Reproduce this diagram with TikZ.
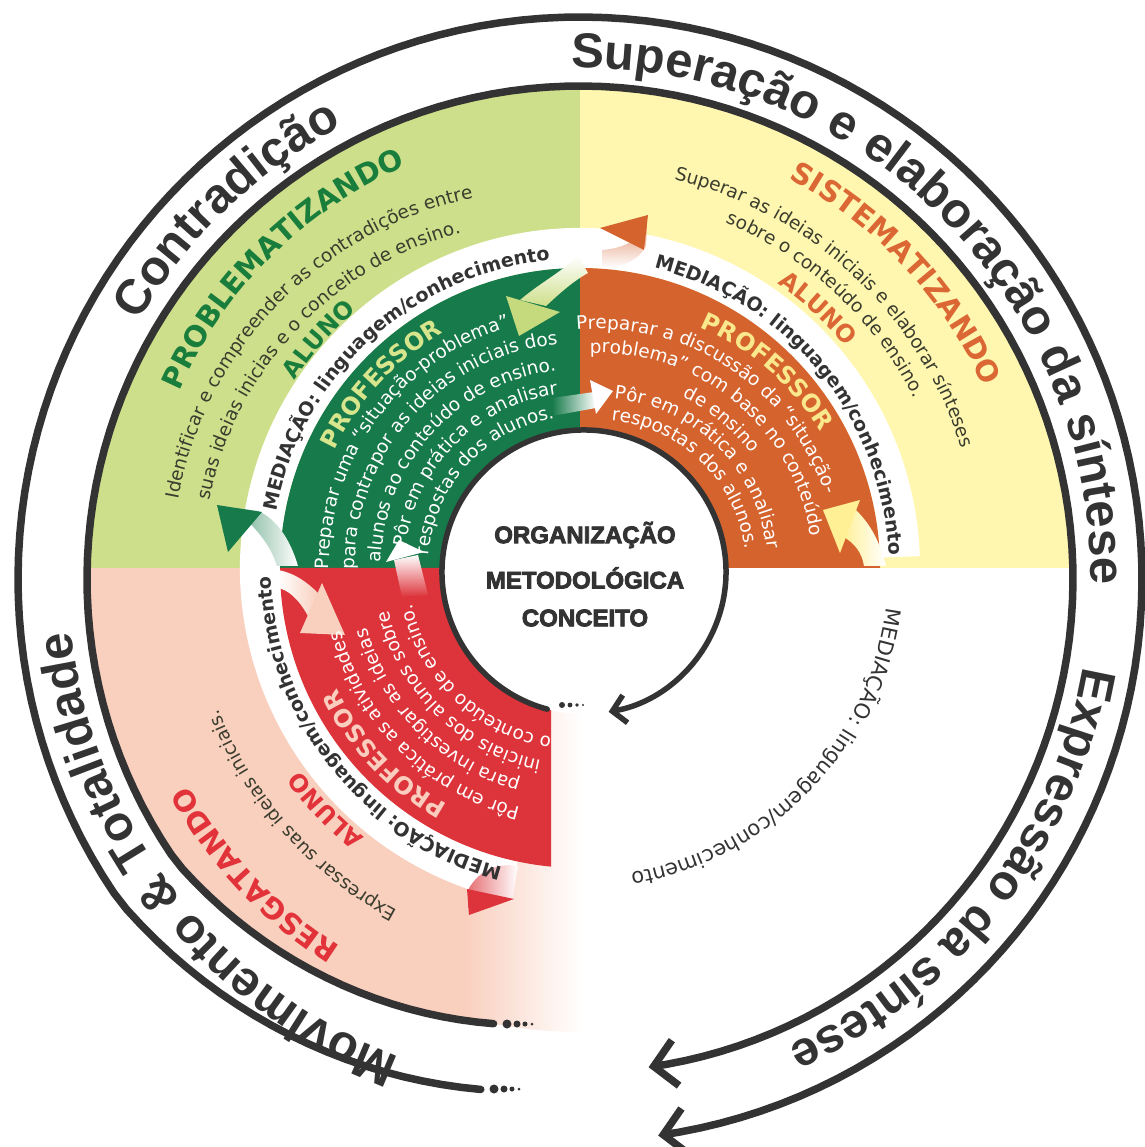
\documentclass[tikz,border=0pt]{standalone}
\usepackage{fontspec}
\setmainfont{DejaVu Sans}
\newfontfamily\outerfont{Liberation Sans}
\newfontfamily\heavyfont[FakeBold=3.5]{Liberation Sans}
\usetikzlibrary{arrows.meta,decorations.text}

\definecolor{ink}{RGB}{51,51,51}
\definecolor{bggreen}{RGB}{206,223,139}
\definecolor{bgyellow}{RGB}{255,247,176}
\definecolor{bgpink}{RGB}{249,207,190}
\definecolor{ringgreen}{RGB}{22,122,74}
\definecolor{ringorange}{RGB}{213,99,46}
\definecolor{ringred}{RGB}{220,52,58}
\definecolor{probgreen}{RGB}{25,125,60}
\definecolor{sisorange}{RGB}{219,104,52}
\definecolor{resred}{RGB}{226,50,58}
\definecolor{palegreen}{RGB}{215,229,140}
\definecolor{paleyellow}{RGB}{250,232,140}
\definecolor{palepink}{RGB}{250,205,190}
\definecolor{bgtext}{RGB}{58,60,45}
\definecolor{headgreen}{RGB}{196,218,125}
\definecolor{headyellow}{RGB}{255,240,150}

\newcommand{\fOuter}{\outerfont\bfseries\fontsize{49}{49}\selectfont}
\newcommand{\fMed}{\bfseries\fontsize{19}{19}\selectfont}
\newcommand{\fMedLight}{\fontsize{21}{21}\selectfont}
\newcommand{\fPhase}{\bfseries\fontsize{29}{29}\selectfont}
\newcommand{\fRole}{\bfseries\fontsize{24}{24}\selectfont}
\newcommand{\fBody}{\fontsize{18.5}{18.5}\selectfont}

% #1 centre shift, #2 middle angle, #3 baseline radius, #4 font, #5 colour, #6 text
\newcommand{\arctext}[6][0,0]{%
  \path[shift={(#1)},decorate,decoration={text along path,text align=center,
      text color=#5,text={|#4|#6}}]
    ({#2+80}:#3) arc[start angle={#2+80},end angle={#2-80},radius=#3];}

\pgfmathdeclarefunction{rout}{1}{\pgfmathparse{562-42*min(1,max(0,(#1-215)/44))}}
\pgfmathdeclarefunction{rsec}{1}{\pgfmathparse{493-40*min(1,max(0,(#1-215)/44))}}

\tikzset{
  spiral/.style={draw=ink,line width=7.5pt,line cap=round,
    -{Straight Barb[length=22pt,width=46pt]}},
  innerline/.style={draw=ink,line width=5.5pt,line cap=round,
    -{Straight Barb[length=13pt,width=28pt]}},
  centertxt/.style={font=\heavyfont\bfseries\fontsize{24}{24}\selectfont,
    text=ink,inner sep=0pt},
}

\begin{document}
\begin{tikzpicture}[x=1pt,y=1pt]
  \useasboundingbox (-580,-579) rectangle (564,568);
  % backgrounds
  \begin{scope}
    \clip (0,-11) circle[radius=493];
    \fill[bggreen] (-600,0) rectangle (0,600);
    \fill[bgyellow] (0,0) rectangle (600,600);
  \end{scope}
  \begin{scope}
    \clip (0,0) -- plot[domain=176:276,samples=60] ({rsec(\x)*cos(\x)},{rsec(\x)*sin(\x)-11}) -- cycle;
    \fill[bgpink] (-600,0) rectangle (-115,-600);
    \shade[left color=bgpink,right color=white] (-116,0) rectangle (2,-600);
  \end{scope}
  % mediation band
  \fill[white] (2:300) arc[start angle=2,end angle=258,radius=300]
    -- (258:340) arc[start angle=258,end angle=2,radius=340] -- cycle;
  % rings
  \fill[ringgreen] (90:130) arc[start angle=90,end angle=180,radius=130]
    -- (180:300) arc[start angle=180,end angle=90,radius=300] -- cycle;
  \fill[ringorange] (0:130) arc[start angle=0,end angle=90,radius=130]
    -- (90:300) arc[start angle=90,end angle=0,radius=300] -- cycle;
  \begin{scope}
    \clip (-600,0) rectangle (-29,-600);
    \fill[ringred] (180:130) arc[start angle=180,end angle=270,radius=130]
      -- (270:300) arc[start angle=270,end angle=180,radius=300] -- cycle;
  \end{scope}
  % flow arrows
  \shade[left color=ringgreen!60,right color=white] (-345,60) .. controls (-325,40) and (-310,25) .. (-303,2)
    -- (-282,2) .. controls (-290,30) and (-305,50) .. (-322,57) -- cycle;
  \fill[ringgreen] (-363,63) -- (-318,56) -- (-352,16) -- cycle;
  \shade[bottom color=bggreen,top color=white] (-60,268) .. controls (-40,285) and (-20,295) .. (-2,312)
    -- (8,295) .. controls (-10,285) and (-25,270) .. (-34,262) -- cycle;
  \fill[headgreen] (-74,272) -- (-20,256) -- (-61,232) -- cycle;
  \shade[left color=ringgreen,right color=white] (-28,170) -- (14,176) -- (16,160) -- (-28,152) -- cycle;
  \fill[white] (10,188) -- (33,177) -- (16,154) -- cycle;
  \shade[bottom color=white,top color=ringorange!70] (22,300) .. controls (45,300) and (60,310) .. (66,322)
    -- (67,345) .. controls (60,328) and (45,320) .. (22,318) -- cycle;
  \fill[ringorange] (20,340) -- (68,353) -- (64,318) -- cycle;
  \shade[left color=headyellow,right color=white] (276,58) .. controls (292,42) and (300,25) .. (306,2)
    -- (284,2) .. controls (282,15) and (275,25) .. (262,32) -- cycle;
  \fill[headyellow] (243,58) -- (280,68) -- (260,15) -- cycle;
  \shade[bottom color=ringred,top color=white] (-178,-29) -- (-152,-27) -- (-162,13) -- (-186,8) -- cycle;
  \fill[white] (-194,6) -- (-181,28) -- (-156,16) -- cycle;
  \shade[left color=white,right color=bgpink] (-302,-2) .. controls (-285,-5) and (-272,-15) .. (-262,-25)
    -- (-272,-48) .. controls (-282,-30) and (-292,-22) .. (-302,-20) -- cycle;
  \fill[bgpink] (-258,-15) -- (-235,-67) -- (-280,-65) -- cycle;
  \shade[left color=ringred!70,right color=white] (-112,-322) .. controls (-100,-300) and (-80,-295) .. (-62,-298)
    -- (-68,-334) .. controls (-85,-330) and (-100,-335) .. (-111,-346) -- cycle;
  \fill[ringred] (-113,-321) -- (-66,-331) -- (-111,-347) -- cycle;
  % centre
  \fill[white] (4,-4) circle[radius=142];
  \draw[innerline] (4,-4) ++(255:142) arc[start angle=255,end angle=-80,radius=142];
  \foreach \px/\dotr in {-18/3,-10/2.4,-3/1.8,3/1.2}
    \fill[ink] (\px,-137) circle[radius=\dotr];
  \path (5,33) node(org) [centertxt] {ORGANIZAÇÃO};
  \path (5,-10) node(met) [centertxt] {METODOLÓGICA};
  \path (5,-50) node(conc) [centertxt] {CONCEITO};
  % outer spirals
  \draw[spiral] plot[domain=259:-82,samples=160] ({rout(\x)*cos(\x)},{rout(\x)*sin(\x)-11});
  \draw[spiral] plot[domain=259:-82,samples=160] ({rsec(\x)*cos(\x)},{rsec(\x)*sin(\x)-11});
  \foreach \px/\dotr in {-86/4.5,-76/3.5,-68/2.5,-61/1.5}
    \fill[ink] (\px,-521) circle[radius=\dotr];
  \foreach \px/\dotr in {-73/4.5,-63/3.5,-55/2.5,-48/1.5}
    \fill[ink] (\px,-456) circle[radius=\dotr];
  % outer ring texts
  \arctext[0,-11]{45.2}{511}{\fOuter}{ink}{Superação e elaboração da síntese}
  \arctext[0,-11]{133.7}{511}{\fOuter}{ink}{Contradição}
  \arctext[0,-11]{217.6}{511}{\fOuter}{ink}{Movimento {\&} Totalidade}
  \arctext[0,-11]{-37.9}{511}{\fOuter}{ink}{Expressão da síntese}
  % mediation
  \arctext{132.5}{309}{\fMed}{ink}{MEDIAÇÃO: linguagem/conhecimento}
  \arctext{39.2}{309}{\fMed}{ink}{MEDIAÇÃO: linguagem/conhecimento}
  \arctext{218.5}{309}{\fMed}{ink}{MEDIAÇÃO: linguagem/conhecimento}
  \arctext{-44}{309}{\fMedLight}{ink}{MEDIAÇÃO: linguagem/conhecimento}
  % problematizando
  \arctext{134.8}{438}{\fPhase}{probgreen}{PROBLEMATIZANDO}
  \arctext[-30,0]{135.6}{378}{\fBody}{bgtext}{Identificar e compreender as contradições entre}
  \arctext[-30,0]{136.8}{347}{\fBody}{bgtext}{suas ideias inicias e o conceito de ensino.}
  \arctext{138.8}{341}{\fRole}{probgreen}{ALUNO}
  \arctext{137.3}{272}{\fRole}{palegreen}{PROFESSOR}
  \arctext{143.2}{251}{\fBody}{white}{Preparar uma “situação-problema”}
  \arctext{138}{225}{\fBody}{white}{para contrapor as ideias iniciais dos}
  \arctext{137.6}{199}{\fBody}{white}{alunos ao conteúdo de ensino.}
  \arctext{135.3}{175}{\fBody}{white}{Pôr em prática e analisar}
  \arctext{137.4}{152}{\fBody}{white}{respostas dos alunos.}
  % sistematizando
  \arctext{43}{442}{\fPhase}{sisorange}{SISTEMATIZANDO}
  \arctext{46.9}{400}{\fBody}{bgtext}{Superar as ideias iniciais e elaborar sínteses}
  \arctext{47}{375}{\fBody}{bgtext}{sobre o conteúdo de ensino.}
  \arctext{47.5}{346}{\fRole}{sisorange}{ALUNO}
  \arctext[18,0]{49.2}{261}{\fRole}{paleyellow}{PROFESSOR}
  \arctext[18,0]{56.5}{239}{\fBody}{white}{Preparar a discussão da “situação-}
  \arctext[18,0]{50.2}{215}{\fBody}{white}{problema” com base no conteúdo}
  \arctext[18,0]{50.2}{191}{\fBody}{white}{de ensino}
  \arctext[18,0]{45.4}{170}{\fBody}{white}{Pôr em prática e analisar}
  \arctext[18,0]{46}{148}{\fBody}{white}{respostas dos alunos.}
  % resgatando
  \arctext{223.3}{448}{\fPhase}{resred}{RESGATANDO}
  \arctext{221.7}{388}{\fBody}{bgtext}{Expressar suas ideias iniciais.}
  \arctext{223.6}{345}{\fRole}{resred}{ALUNO}
  \arctext{223.6}{271}{\fRole}{palepink}{PROFESSOR}
  \arctext{225.3}{247}{\fBody}{white}{Pôr em prática as atividades}
  \arctext{225}{221}{\fBody}{white}{para investigar as ideias}
  \arctext{225.5}{196}{\fBody}{white}{iniciais dos alunos sobre}
  \arctext{226.4}{172}{\fBody}{white}{o conteúdo de ensino.}
\end{tikzpicture}
\end{document}
